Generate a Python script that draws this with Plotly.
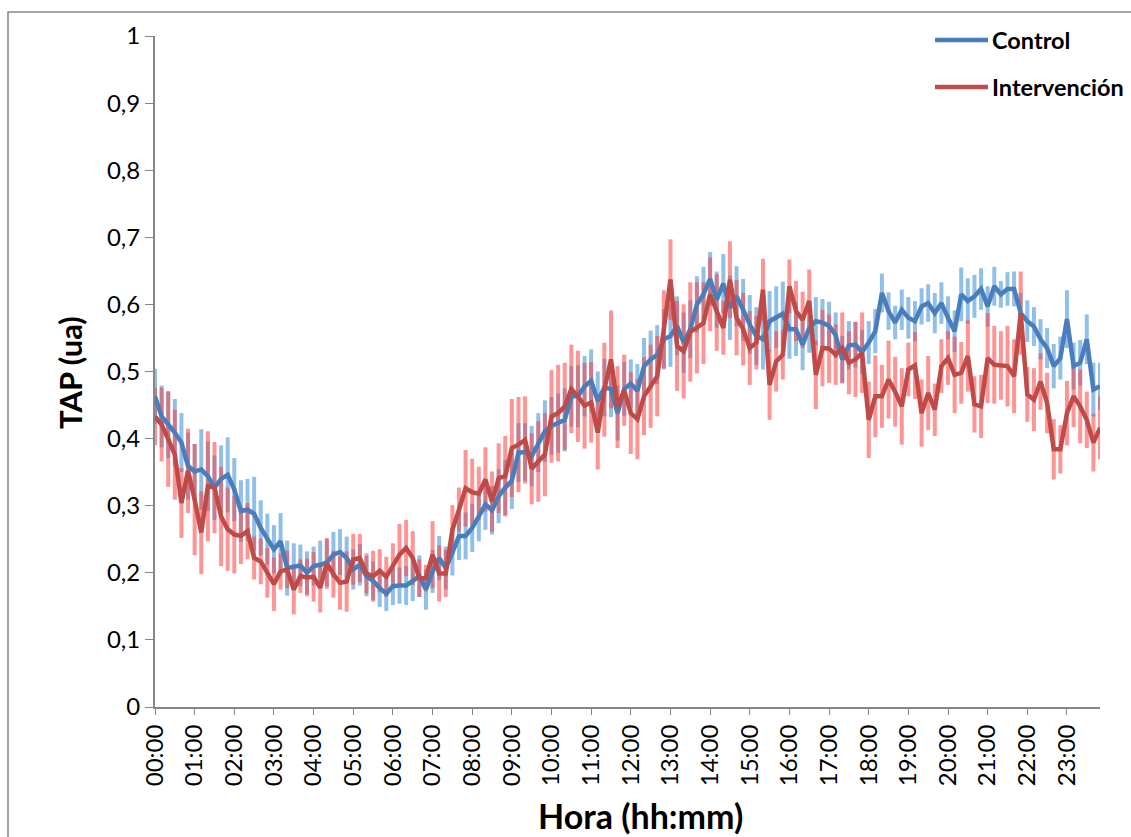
import plotly.graph_objects as go

# 10-minute sampling, 00:00 .. 23:50
hours = [f"{h:02d}:{m:02d}" for h in range(24) for m in range(0, 60, 10)]
tick_labels = [f"{h:02d}:00" for h in range(24)]
series_names = ["Control", "Intervención"]

control = [
    0.463, 0.433, 0.421, 0.409, 0.394, 0.359, 0.351, 0.354, 0.344, 0.327, 0.340, 0.346,
    0.324, 0.292, 0.294, 0.288, 0.267, 0.250, 0.235, 0.247, 0.207, 0.209, 0.211, 0.200,
    0.210, 0.212, 0.215, 0.227, 0.231, 0.222, 0.205, 0.212, 0.195, 0.188, 0.177, 0.169,
    0.180, 0.181, 0.181, 0.188, 0.195, 0.175, 0.202, 0.222, 0.207, 0.230, 0.255, 0.255,
    0.267, 0.284, 0.302, 0.293, 0.314, 0.327, 0.337, 0.379, 0.380, 0.374, 0.394, 0.411,
    0.419, 0.423, 0.428, 0.463, 0.463, 0.478, 0.486, 0.456, 0.476, 0.474, 0.438, 0.474,
    0.482, 0.471, 0.508, 0.518, 0.525, 0.548, 0.553, 0.568, 0.543, 0.563, 0.600, 0.615,
    0.638, 0.607, 0.631, 0.595, 0.612, 0.592, 0.570, 0.553, 0.548, 0.575, 0.581, 0.586,
    0.563, 0.563, 0.540, 0.565, 0.575, 0.573, 0.568, 0.554, 0.518, 0.539, 0.540, 0.529,
    0.543, 0.560, 0.617, 0.590, 0.573, 0.592, 0.580, 0.575, 0.597, 0.602, 0.587, 0.602,
    0.580, 0.560, 0.615, 0.605, 0.612, 0.623, 0.597, 0.627, 0.615, 0.623, 0.623, 0.587,
    0.575, 0.567, 0.548, 0.535, 0.508, 0.520, 0.578, 0.508, 0.513, 0.548, 0.473, 0.478,
]
control_err = [
    0.041, 0.046, 0.050, 0.050, 0.044, 0.050, 0.041, 0.060, 0.052, 0.048, 0.050, 0.056,
    0.047, 0.046, 0.046, 0.055, 0.041, 0.038, 0.036, 0.042, 0.041, 0.035, 0.031, 0.032,
    0.029, 0.036, 0.035, 0.034, 0.034, 0.032, 0.030, 0.031, 0.030, 0.029, 0.028, 0.026,
    0.028, 0.027, 0.029, 0.030, 0.031, 0.030, 0.032, 0.033, 0.032, 0.034, 0.036, 0.035,
    0.036, 0.037, 0.038, 0.036, 0.040, 0.041, 0.042, 0.044, 0.043, 0.045, 0.044, 0.046,
    0.043, 0.044, 0.047, 0.045, 0.046, 0.045, 0.047, 0.044, 0.043, 0.042, 0.041, 0.040,
    0.036, 0.040, 0.042, 0.043, 0.044, 0.045, 0.046, 0.044, 0.045, 0.043, 0.042, 0.041,
    0.040, 0.042, 0.044, 0.048, 0.045, 0.046, 0.044, 0.043, 0.045, 0.045, 0.046, 0.048,
    0.044, 0.040, 0.038, 0.037, 0.036, 0.035, 0.036, 0.034, 0.035, 0.036, 0.034, 0.033,
    0.032, 0.033, 0.029, 0.028, 0.025, 0.030, 0.031, 0.030, 0.027, 0.028, 0.030, 0.031,
    0.032, 0.031, 0.040, 0.034, 0.032, 0.031, 0.030, 0.029, 0.020, 0.025, 0.026, 0.030,
    0.031, 0.029, 0.030, 0.030, 0.033, 0.032, 0.043, 0.035, 0.034, 0.037, 0.040, 0.035,
]
intervencion = [
    0.433, 0.421, 0.399, 0.376, 0.304, 0.352, 0.309, 0.260, 0.329, 0.327, 0.284, 0.265,
    0.257, 0.255, 0.262, 0.222, 0.217, 0.200, 0.183, 0.202, 0.205, 0.175, 0.195, 0.193,
    0.194, 0.178, 0.214, 0.198, 0.185, 0.187, 0.220, 0.222, 0.199, 0.195, 0.203, 0.194,
    0.212, 0.227, 0.237, 0.222, 0.192, 0.192, 0.227, 0.199, 0.199, 0.264, 0.294, 0.326,
    0.320, 0.318, 0.339, 0.306, 0.341, 0.344, 0.386, 0.391, 0.398, 0.355, 0.366, 0.376,
    0.433, 0.438, 0.448, 0.474, 0.463, 0.449, 0.454, 0.409, 0.473, 0.518, 0.447, 0.472,
    0.438, 0.429, 0.463, 0.478, 0.493, 0.563, 0.637, 0.538, 0.530, 0.559, 0.565, 0.572,
    0.615, 0.588, 0.565, 0.637, 0.580, 0.563, 0.535, 0.543, 0.622, 0.480, 0.515, 0.525,
    0.627, 0.590, 0.577, 0.605, 0.495, 0.535, 0.534, 0.525, 0.535, 0.513, 0.518, 0.528,
    0.428, 0.463, 0.463, 0.488, 0.470, 0.448, 0.503, 0.509, 0.438, 0.468, 0.443, 0.508,
    0.520, 0.495, 0.498, 0.523, 0.451, 0.448, 0.520, 0.510, 0.509, 0.508, 0.493, 0.587,
    0.466, 0.458, 0.485, 0.453, 0.384, 0.384, 0.438, 0.463, 0.448, 0.428, 0.394, 0.416,
]
intervencion_err = [
    0.043, 0.055, 0.071, 0.067, 0.052, 0.063, 0.083, 0.062, 0.082, 0.068, 0.074, 0.062,
    0.058, 0.042, 0.042, 0.032, 0.034, 0.037, 0.040, 0.027, 0.028, 0.037, 0.025, 0.028,
    0.037, 0.037, 0.038, 0.035, 0.040, 0.045, 0.038, 0.036, 0.030, 0.038, 0.032, 0.030,
    0.032, 0.046, 0.042, 0.040, 0.028, 0.020, 0.050, 0.042, 0.035, 0.037, 0.033, 0.057,
    0.050, 0.040, 0.048, 0.045, 0.052, 0.060, 0.073, 0.071, 0.065, 0.053, 0.060, 0.062,
    0.069, 0.072, 0.065, 0.066, 0.068, 0.064, 0.060, 0.055, 0.070, 0.073, 0.061, 0.053,
    0.061, 0.060, 0.058, 0.062, 0.060, 0.058, 0.060, 0.067, 0.070, 0.074, 0.068, 0.061,
    0.055, 0.057, 0.040, 0.057, 0.056, 0.054, 0.055, 0.040, 0.046, 0.052, 0.045, 0.037,
    0.040, 0.045, 0.042, 0.047, 0.051, 0.057, 0.051, 0.045, 0.053, 0.047, 0.056, 0.060,
    0.057, 0.061, 0.047, 0.058, 0.052, 0.057, 0.040, 0.050, 0.050, 0.055, 0.039, 0.040,
    0.040, 0.057, 0.046, 0.053, 0.042, 0.047, 0.067, 0.058, 0.051, 0.060, 0.055, 0.062,
    0.041, 0.047, 0.042, 0.045, 0.045, 0.036, 0.048, 0.046, 0.055, 0.042, 0.043, 0.047,
]

BLUE = "#4A7EBB"
RED = "#BE4B48"
FONT = "Lato"

x = list(range(len(hours)))

fig = go.Figure()
# error bars (drawn first, underneath the lines)
fig.add_trace(go.Scatter(
    x=x, y=control, mode="markers", marker=dict(size=1, color="rgba(0,0,0,0)"),
    error_y=dict(type="data", array=control_err, visible=True, width=0,
                 thickness=4, color="rgba(70,150,215,0.6)"),
    showlegend=False, hoverinfo="skip"))
fig.add_trace(go.Scatter(
    x=x, y=intervencion, mode="markers", marker=dict(size=1, color="rgba(0,0,0,0)"),
    error_y=dict(type="data", array=intervencion_err, visible=True, width=0,
                 thickness=4, color="rgba(255,60,60,0.55)"),
    showlegend=False, hoverinfo="skip"))
# lines
fig.add_trace(go.Scatter(x=x, y=control, mode="lines", name=series_names[0],
                         line=dict(color=BLUE, width=4.5), text=hours,
                         showlegend=False))
fig.add_trace(go.Scatter(x=x, y=intervencion, mode="lines", name=series_names[1],
                         line=dict(color=RED, width=4.5), text=hours,
                         showlegend=False))

L, R, T, B = 155, 31, 36, 130
W, H = 1131, 837
pw = W - L - R
ph = H - T - B

def px(xp):
    return (xp - L) / pw

def py(yp):
    return (H - B - yp) / ph

# hand-placed legend (the chart's legend sits against the right edge)
legend_rows = [(series_names[0], BLUE, 40), (series_names[1], RED, 87)]
shapes = [dict(type="rect", xref="paper", yref="paper",
               x0=px(8), y0=py(12), x1=px(W + 20), y1=py(H + 20),
               line=dict(color="#868686", width=1.5),
               fillcolor="rgba(0,0,0,0)", layer="below")]
annotations = [
    dict(text="<b>Hora (hh:mm)</b>", xref="paper", yref="paper",
         x=px(640), y=py(815), xanchor="center", yanchor="middle",
         showarrow=False, font=dict(family=FONT, size=34, color="black")),
    dict(text="<b>TAP (ua)</b>", xref="paper", yref="paper",
         x=px(70), y=py(373), xanchor="center", yanchor="middle",
         showarrow=False, textangle=-90,
         font=dict(family=FONT, size=31, color="black")),
]
for name, col, ypix in legend_rows:
    shapes.append(dict(type="line", xref="paper", yref="paper",
                       x0=px(935), x1=px(988), y0=py(ypix), y1=py(ypix),
                       line=dict(color=col, width=4.5)))
    annotations.append(dict(text=f"<b>{name}</b>", xref="paper", yref="paper",
                            x=px(990), y=py(ypix), xanchor="left",
                            yanchor="middle", showarrow=False,
                            font=dict(family=FONT, size=23.5, color="black")))

fig.update_layout(
    width=W, height=H,
    margin=dict(l=L, r=R, t=T, b=B, autoexpand=False),
    paper_bgcolor="white", plot_bgcolor="white",
    separators=",.",
    font=dict(family=FONT, size=24, color="black"),
    showlegend=False,
    xaxis=dict(range=[0, len(hours) - 1], tickmode="array",
               tickvals=[i * 6 for i in range(24)], ticktext=tick_labels,
               tickangle=-90, ticks="outside", ticklen=6, tickcolor="#868686",
               showline=True, linecolor="#868686", linewidth=2,
               showgrid=False, zeroline=False,
               tickfont=dict(family=FONT, size=24, color="black")),
    yaxis=dict(range=[0, 1], dtick=0.1, tick0=0, ticks="outside", ticklen=8,
               tickcolor="#868686", showline=True, linecolor="#868686",
               linewidth=2, showgrid=False, zeroline=False,
               tickfont=dict(family=FONT, size=24, color="black")),
    annotations=annotations,
    shapes=shapes,
)

fig.write_html("out.html")
